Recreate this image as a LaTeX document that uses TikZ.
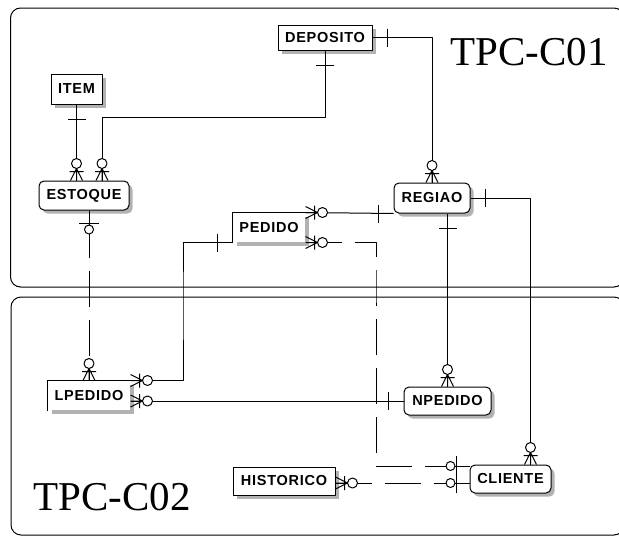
\documentclass[tikz,border=0pt]{standalone}
\usepackage{fontspec}
\setmainfont{Liberation Serif}
\setsansfont{Liberation Sans}
\usetikzlibrary{shadows}
\begin{document}
\begin{tikzpicture}[x=1pt, y=-1pt, line width=1pt, line join=round,
  ent/.style={draw, fill=white, inner sep=0pt,
    font=\sffamily\bfseries\fontsize{14.5}{14.5}\selectfont\addfontfeatures{LetterSpace=5},
    drop shadow={shadow xshift=3.5pt, shadow yshift=-3.5pt, fill=gray!60, opacity=1}},
  dep/.style={ent, rounded corners=5pt},
  sel/.style={ent, draw=none},
  rel/.style={dash pattern=on 36pt off 13pt},
  relb/.style={dash pattern=on 0pt off 11pt on 36pt off 13pt on 36pt off 13pt on 36pt off 13pt on 36pt off 13pt},
  title/.style={font=\fontsize{41}{41}\selectfont, anchor=base},
  one/.pic={\draw (15,-9) -- (15,9);},
  zmany/.pic={\draw (0,-6) -- (12,0) -- (0,6) (0,0) -- (12,0) (9,-7) -- (9,7);
    \draw[fill=white] (17,0) circle (5pt);},
  zone/.pic={\draw (0,0) -- (13,0) (13,-10) -- (13,10); \draw[fill=white] (19,0) circle (4.5pt);}]
\useasboundingbox (0,0) rectangle (619,536);
\draw[rounded corners=10pt] (10.5,8) rectangle (624,287);
\draw[rounded corners=10pt] (11,297) rectangle (624,535);
\node[title] (c01) at (529,65) {TPC-C01};
\node[title] (c02) at (112,510) {TPC-C02};

\node[ent, minimum width=94pt, minimum height=25pt] (deposito) at (325,37.5) {DEPOSITO};
\node[ent, minimum width=51pt, minimum height=30pt] (item) at (76.5,89) {ITEM};
\node[dep, minimum width=90pt, minimum height=29pt] (estoque) at (84,195.5) {ESTOQUE};
\node[sel, minimum width=72pt, minimum height=29pt] (pedido) at (269,227.5) {PEDIDO};
\node[dep, minimum width=76pt, minimum height=30pt] (regiao) at (432,198) {REGIAO};
\node[sel, minimum width=82pt, minimum height=29pt] (lpedido) at (89,395.5) {LPEDIDO};
\node[dep, minimum width=87pt, minimum height=28pt] (npedido) at (447.5,401) {NPEDIDO};
\node[dep, minimum width=81pt, minimum height=28pt] (cliente) at (510.5,479) {CLIENTE};
\node[ent, minimum width=102pt, minimum height=28pt] (historico) at (284,481) {HISTORICO};
\draw (pedido.south west) |- (pedido.north east);
\draw (lpedido.south west) |- (lpedido.north east);

\coordinate (b0) at (102,117);
\coordinate (b1) at (183,300);
\coordinate (b2) at (376,300);
\draw (deposito.east) -| (regiao.north);
\draw (deposito.south) |- (b0) -- (b0 |- estoque.north);
\draw (item.south) -- (item.south |- estoque.north);
\draw[relb] (lpedido.north |- estoque.south) -- (lpedido.north);
\draw (pedido.south west) -| (b1) |- (lpedido.north east);
\draw (npedido.west) -- (npedido.west -| lpedido.east);
\draw (pedido.north east) -- (regiao.south west);
\draw[rel] (pedido.south east) -| (b2) |- ([yshift=13pt]cliente.west);
\draw[rel] ([yshift=-2pt]historico.east) -- ([yshift=-2pt]historico.east -| cliente.west);
\draw (npedido.north |- regiao.south) -- (npedido.north);
\draw (regiao.east) -| ([xshift=20pt]cliente.north);

\pic at (deposito.east) {one};
\pic[rotate=90] at (regiao.north) {zmany};
\pic[rotate=-90] at (deposito.south) {one};
\pic[rotate=90] at (b0 |- estoque.north) {zmany};
\pic[rotate=-90] at (item.south) {one};
\pic[rotate=90] at (item.south |- estoque.north) {zmany};
\pic[rotate=-90] at (lpedido.north |- estoque.south) {zone};
\pic[rotate=90] at (lpedido.north) {zmany};
\pic[rotate=180] at (pedido.south west) {one};
\pic at (lpedido.north east) {zmany};
\pic at (npedido.west -| lpedido.east) {zmany};
\pic[rotate=180] at (npedido.west) {one};
\pic at (pedido.north east) {zmany};
\pic[rotate=180] at (regiao.south west) {one};
\pic at (pedido.south east) {zmany};
\pic[rotate=180] at ([yshift=13pt]cliente.west) {zone};
\pic at ([yshift=-2pt]historico.east) {zmany};
\pic[rotate=180] at ([yshift=-2pt]historico.east -| cliente.west) {zone};
\pic[rotate=-90] at (npedido.north |- regiao.south) {one};
\pic[rotate=90] at (npedido.north) {zmany};
\pic at (regiao.east) {one};
\pic[rotate=90] at ([xshift=20pt]cliente.north) {zmany};
\end{tikzpicture}
\end{document}
